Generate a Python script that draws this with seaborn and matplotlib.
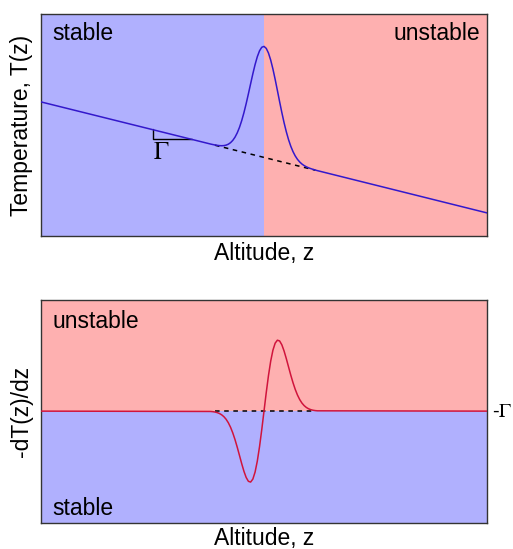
import matplotlib
matplotlib.use("Agg")
import matplotlib.pyplot as plt
import seaborn as sns
import pandas as pd

# ---- data (schematic) ----
altitude = [0, 38, 38.5, 39, 39.5, 40, 40.5, 41, 41.5, 42, 42.5, 43, 43.5, 44, 44.5,
            45, 45.5, 46, 46.5, 47, 47.5, 48, 48.5, 49, 49.5, 50, 50.5, 51, 51.5,
            52, 52.5, 53, 53.5, 54, 54.5, 55, 55.5, 56, 56.5, 57, 57.5, 58, 58.5,
            59, 59.5, 60, 60.5, 61, 61.5, 62, 100]
temperature = [60.4, 41.43, 41.21, 41.01, 40.84, 40.71, 40.66, 40.72, 40.93, 41.35,
               42.04, 43.07, 44.52, 46.46, 48.93, 51.97, 55.55, 59.61, 64.02, 68.58,
               73.07, 77.22, 80.76, 83.43, 85.02, 85.4, 84.52, 82.43, 79.26, 75.22,
               70.57, 65.58, 60.52, 55.61, 51.05, 46.97, 43.43, 40.46, 38.02, 36.07,
               34.54, 33.35, 32.43, 31.72, 31.16, 30.71, 30.34, 30.01, 29.71, 29.43,
               10.4]
neg_dTdz = [0, -0.043, -0.071, -0.120, -0.199, -0.318, -0.496, -0.751, -1.103, -1.578,
            -2.194, -2.960, -3.870, -4.902, -6.016, -7.137, -8.172, -9.012, -9.536,
            -9.639, -9.234, -8.280, -6.787, -4.821, -2.504, 0, 2.504, 4.821, 6.787,
            8.280, 9.234, 9.639, 9.536, 9.012, 8.172, 7.137, 6.016, 4.902, 3.870,
            2.960, 2.194, 1.578, 1.103, 0.751, 0.496, 0.318, 0.199, 0.120, 0.071,
            0.043, 0]
dash_altitude = [39, 61.5]
dash_temperature = [40.9, 29.65]
dash_gradient = [0, 0]
gamma_tri_z = [25, 25, 33.8]
gamma_tri_T = [48, 43.6, 43.6]
boundary_z = 50

sns.set_theme(style="white")
plt.rcParams['font.family'] = ['Liberation Sans', 'DejaVu Sans']
plt.rcParams['mathtext.fontset'] = 'stix'
plt.rcParams['text.color'] = 'black'
plt.rcParams['axes.labelcolor'] = 'black'

blue_bg = '#b0b0fe'
red_bg = '#feb0b0'
line_blue = '#3318cc'
line_red = '#d0143c'
fs = 16.5

fig = plt.figure(figsize=(5.13, 5.49), dpi=100)
W, H = 513, 549
ax1 = fig.add_axes([41 / W, 1 - 236 / H, 446 / W, 222 / H])
ax2 = fig.add_axes([41 / W, 1 - 523 / H, 446 / W, 223 / H])

df_top = pd.DataFrame({'z': altitude, 'T': temperature})
df_bot = pd.DataFrame({'z': altitude, 'g': neg_dTdz})

# top panel
ax1.axvspan(0, boundary_z, color=blue_bg, lw=0, zorder=0)
ax1.axvspan(boundary_z, 100, color=red_bg, lw=0, zorder=0)
ax1.plot(dash_altitude, dash_temperature, color='black', lw=1.1, ls=(0, (3, 3)), zorder=2)
sns.lineplot(data=df_top, x='z', y='T', ax=ax1, color=line_blue, lw=1.1, sort=False, zorder=3)
ax1.plot(gamma_tri_z, gamma_tri_T, color='black', lw=1.0, zorder=2)
ax1.text(27, 38, r'$\Gamma$', fontsize=18, ha='center', va='center', color='black')
ax1.set_xlim(0, 100)
ax1.set_ylim(0, 100)
ax1.text(0.025, 0.965, 'stable', transform=ax1.transAxes, fontsize=fs, ha='left', va='top')
ax1.text(0.984, 0.965, 'unstable', transform=ax1.transAxes, fontsize=fs, ha='right', va='top')
ax1.set_xlabel('Altitude, z', fontsize=fs, labelpad=4)
ax1.set_ylabel('Temperature, T(z)', fontsize=fs, labelpad=6)

# bottom panel
ax2.axhspan(0, 20, color=red_bg, lw=0, zorder=0)
ax2.axhspan(-20, 0, color=blue_bg, lw=0, zorder=0)
ax2.plot(dash_altitude, dash_gradient, color='black', lw=1.1, ls=(0, (3, 3)), zorder=2)
sns.lineplot(data=df_bot, x='z', y='g', ax=ax2, color=line_red, lw=1.1, sort=False, zorder=3)
ax2.set_xlim(0, 100)
ax2.set_ylim(-15.2, 15.1)
ax2.text(0.025, 0.955, 'unstable', transform=ax2.transAxes, fontsize=fs, ha='left', va='top')
ax2.text(0.025, 0.036, 'stable', transform=ax2.transAxes, fontsize=fs, ha='left', va='baseline')
ax2.text(1.011, 0.5, r'-$\Gamma$', transform=ax2.transAxes, fontsize=14.5, ha='left', va='center')
ax2.set_xlabel('Altitude, z', fontsize=fs, labelpad=3)
ax2.set_ylabel('-dT(z)/dz', fontsize=fs, labelpad=6)

for ax in (ax1, ax2):
    ax.set_xticks([])
    ax.set_yticks([])
    for s in ax.spines.values():
        s.set_color('#333333')
        s.set_linewidth(1.0)
        s.set_visible(True)

fig.savefig('out.png', dpi=100)
